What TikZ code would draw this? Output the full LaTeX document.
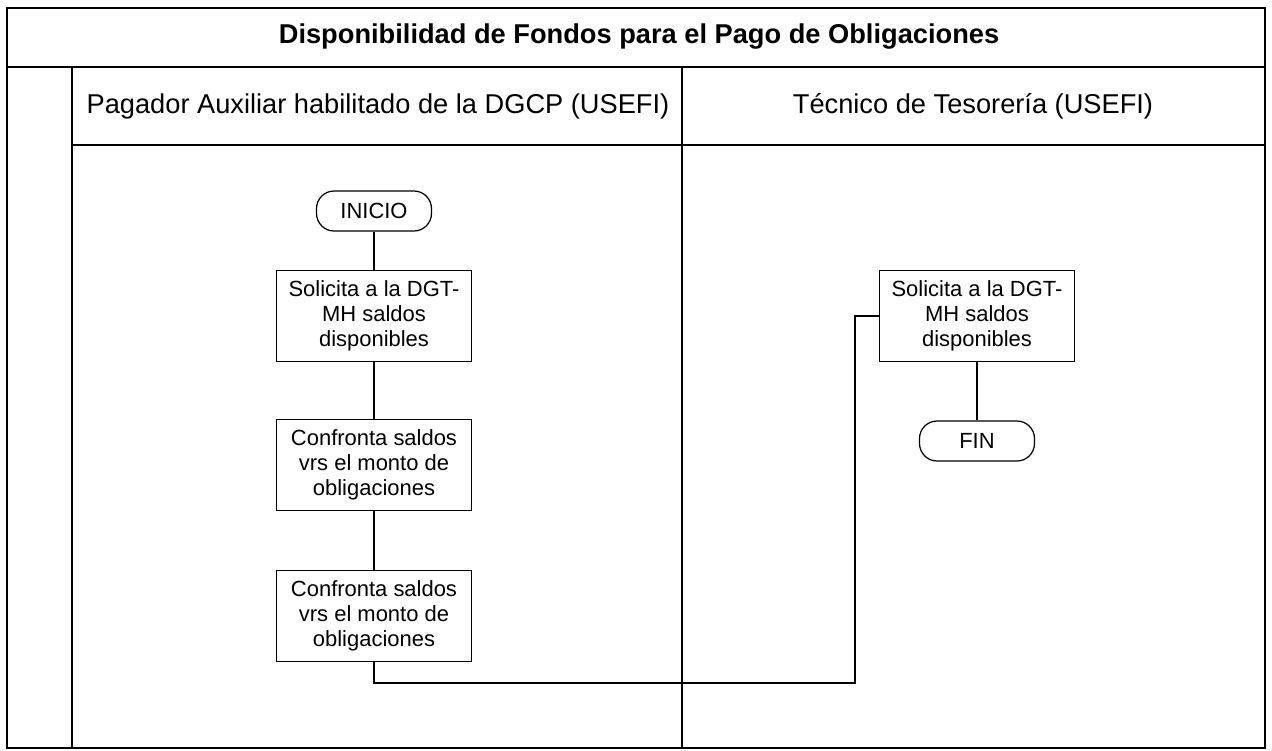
\documentclass[tikz,border=0pt]{standalone}
\usepackage{fontspec}
\setmainfont{Liberation Sans}
\usetikzlibrary{positioning}

\begin{document}
\begin{tikzpicture}[x=0.02cm,y=-0.02cm,
	marco/.style={line width=1pt},
	proceso/.style={draw,line width=0.7pt,minimum width=3.9cm,minimum height=1.82cm,align=center,font=\fontsize{12.5}{14.2}\selectfont},
	terminal/.style={draw,line width=0.7pt,rounded corners=10pt,minimum width=2.3cm,minimum height=0.8cm,font=\fontsize{12.5}{14.2}\selectfont},
	encabezado/.style={font=\fontsize{15.5}{18}\selectfont}]
	\useasboundingbox (0,0) rectangle (1272,751);
	%marco y carriles
	\draw[marco] (7,8) rectangle (1265,748);
	\draw[marco] (7,67) -- (1265,67);
	\draw[marco] (72,145) -- (1265,145);
	\draw[marco] (72,67) -- (72,748);
	\draw[marco] (682,67) -- (682,748);
	\node[encabezado,font=\fontsize{15.5}{18}\selectfont\bfseries] (titulo) at (639,37) {Disponibilidad de Fondos para el Pago de Obligaciones};
	\node[encabezado] (pagador) at (378,106) {Pagador Auxiliar habilitado de la DGCP (USEFI)};
	\node[encabezado] (tecnico) at (973,106) {Técnico de Tesorería (USEFI)};
	%pasos
	\node[terminal] (inicio) at (374,211) {INICIO};
	\node[proceso] (solicita1) at (374,316) {Solicita a la DGT-\\MH saldos\\disponibles};
	\node[proceso] (confronta1) at (374,465) {Confronta saldos\\vrs el monto de\\obligaciones};
	\node[proceso] (confronta2) at (374,616) {Confronta saldos\\vrs el monto de\\obligaciones};
	\node[proceso] (solicita2) at (977,316) {Solicita a la DGT-\\MH saldos\\disponibles};
	\node[terminal] (fin) at (977,441) {FIN};
	\coordinate (codo) at (855,683);
	\path[draw,line width=0.7pt]
	(inicio) -- (solicita1)
	(solicita1) -- (confronta1)
	(confronta1) -- (confronta2)
	(confronta2) |- (codo) |- (solicita2)
	(solicita2) -- (fin)
	;
\end{tikzpicture}
\end{document}
